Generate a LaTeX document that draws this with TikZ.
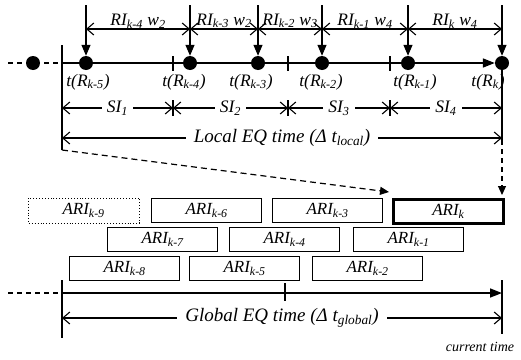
\documentclass[tikz,border=0pt]{standalone}
\usepackage{fontspec}
\setmainfont{Liberation Serif}
\usetikzlibrary{arrows.meta}
\newcommand{\sbs}[1]{\textsubscript{#1}}
\begin{document}
\begin{tikzpicture}[x=1pt,y=-1pt,
  font=\fontsize{13}{15}\selectfont\itshape,
  bigfont/.style={font=\fontsize{17.5}{19}\selectfont\itshape},
  eqfont/.style={font=\fontsize{19}{21}\selectfont\itshape},
  midfont/.style={font=\fontsize{17}{19}\selectfont\itshape},
  dotnode/.style={circle,fill=black,inner sep=0pt,minimum size=14pt},
  tlabel/.style={inner sep=1pt,bigfont},
  arinode/.style={draw,line width=1.2pt,minimum width=110pt,minimum height=24pt,inner sep=0pt,anchor=north west,midfont},
  mainline/.style={line width=1.6pt},
  vline/.style={line width=1.2pt},
  downarrow/.style={line width=1.2pt,-{Triangle[length=11pt,width=9pt]}},
  dimarrow/.style={line width=1.1pt,{Straight Barb[length=7pt,width=12pt]}-{Straight Barb[length=7pt,width=12pt]}},
  dimlabel/.style={fill=white,inner xsep=5pt,inner ysep=1pt,bigfont},
  ticks/.style={line width=1.1pt}
]
\useasboundingbox (0,0) rectangle (521,359);

% ---------- top timeline ----------
\node[dotnode] (d0) at (33,63) {};
\node[dotnode] (d5) at (86,63) {};
\node[dotnode] (d4) at (190,63) {};
\node[dotnode] (d3) at (258,63) {};
\node[dotnode] (d2) at (322,63) {};
\node[dotnode] (d1) at (408,63) {};
\node[dotnode] (dk) at (502,63) {};

\coordinate (ldash) at (8,63);
\coordinate (l0) at (62,63);
\draw[line width=1.3pt,dash pattern=on 5pt off 4pt] (ldash) -- (l0);
\draw[mainline,-{Triangle[length=12pt,width=9pt]}] (l0) -- (dk);

% left vertical
\coordinate (vtop) at (62,45);
\coordinate (vbot) at (62,150);
\draw[vline] (vtop) -- (vbot);

% ticks on timeline and SI row
\foreach \x/\n in {173/a,288/b,390/c}{
  \coordinate (tt\n) at (\x,56);
  \coordinate (tb\n) at (\x,71);
  \draw[ticks] (tt\n) -- (tb\n);
  \coordinate (st\n) at (\x,100);
  \coordinate (sb\n) at (\x,116);
  \draw[ticks] (st\n) -- (sb\n);
}

% down arrows from top
\foreach \x/\n in {86/d5,190/d4,258/d3,322/d2,408/d1,502/dk}{
  \coordinate (top\n) at (\x,5);
  \draw[downarrow] (top\n) -- (\n);
}

% RI dimension arrows
\foreach \x/\n in {86/5,190/4,258/3,322/2,408/1,502/0}{
  \coordinate (ri\n) at (\x,29);
}
\tikzset{rilab/.style={above=-3pt,bigfont,inner xsep=1pt}}
\draw[dimarrow] (ri5) -- node[rilab] (rl4) {RI\sbs{k-4} w\sbs{2}} (ri4);
\draw[dimarrow] (ri4) -- node[rilab] (rl3) {RI\sbs{k-3} w\sbs{2}} (ri3);
\draw[dimarrow] (ri3) -- node[rilab] (rl2) {RI\sbs{k-2} w\sbs{3}} (ri2);
\draw[dimarrow] (ri2) -- node[rilab] (rl1) {RI\sbs{k-1} w\sbs{4}} (ri1);
\draw[dimarrow] (ri1) -- node[rilab] (rl0) {RI\sbs{k} w\sbs{4}} (ri0);

% t(R) labels
\node[tlabel] (tr5) at (88,82) {t(R\sbs{k-5})};
\node[tlabel] (tr4) at (184,82) {t(R\sbs{k-4})};
\node[tlabel] (tr3) at (251,82) {t(R\sbs{k-3})};
\node[tlabel] (tr2) at (321,82) {t(R\sbs{k-2})};
\node[tlabel] (tr1) at (415,82) {t(R\sbs{k-1})};
\node[tlabel] (tr0) at (488,82) {t(R\sbs{k})};

% right vertical below dk
\coordinate (rbot) at (502,140);
\draw[vline] (dk) -- (rbot);

% SI arrows
\coordinate (s0) at (62,108);
\coordinate (s1) at (173,108);
\coordinate (s2) at (288,108);
\coordinate (s3) at (390,108);
\coordinate (s4) at (502,108);
\draw[dimarrow] (s0) -- node[dimlabel] (si1) {SI\sbs{1}} (s1);
\draw[dimarrow] (s1) -- node[dimlabel] (si2) {SI\sbs{2}} (s2);
\draw[dimarrow] (s2) -- node[dimlabel] (si3) {SI\sbs{3}} (s3);
\draw[dimarrow] (s3) -- node[dimlabel] (si4) {SI\sbs{4}} (s4);

% Local EQ time
\coordinate (le0) at (62,138);
\coordinate (le1) at (502,138);
\draw[dimarrow] (le0) -- node[dimlabel,eqfont,inner xsep=8pt] (loc) {Local EQ time (Δ t\sbs{local})} (le1);

% ---------- ARI boxes ----------
\node[arinode,draw=none] (ari9) at (28,198) {ARI\sbs{k-9}};
\draw[line width=0.9pt,dotted] (ari9.north west) rectangle (ari9.south east);
\node[arinode] (ari6) at (151,198) {ARI\sbs{k-6}};
\node[arinode] (ari3) at (272,198) {ARI\sbs{k-3}};
\node[arinode,line width=2.8pt] (arik) at (392,198) {ARI\sbs{k}};
\node[arinode] (ari7) at (107,227) {ARI\sbs{k-7}};
\node[arinode] (ari4) at (229,227) {ARI\sbs{k-4}};
\node[arinode] (ari1) at (353,227) {ARI\sbs{k-1}};
\node[arinode] (ari8) at (69,256) {ARI\sbs{k-8}};
\node[arinode] (ari5) at (189,256) {ARI\sbs{k-5}};
\node[arinode] (ari2) at (312,256) {ARI\sbs{k-2}};

% dashed connectors
\coordinate (dtip) at (389,192);
\draw[line width=1.2pt,dash pattern=on 6pt off 4pt,-{Triangle[length=9pt,width=8pt]}] (vbot) -- (dtip);
\coordinate (rtip) at (502,195);
\draw[line width=1.2pt,dash pattern=on 5pt off 4pt,-{Triangle[length=9pt,width=8pt]}] (rbot) -- (rtip);

% ---------- global timeline ----------
\coordinate (gdash) at (8,293);
\coordinate (g0) at (62,293);
\coordinate (g1) at (502,293);
\draw[line width=1.3pt,dash pattern=on 5pt off 4pt] (gdash) -- (g0);
\draw[mainline,-{Triangle[length=12pt,width=9pt]}] (g0) -- (g1);
\coordinate (gvt) at (62,280);
\coordinate (gvb) at (62,338);
\draw[vline] (gvt) -- (gvb);
\coordinate (gvrt) at (502,280);
\coordinate (gvrb) at (502,334);
\draw[vline] (gvrt) -- (gvrb);
\coordinate (gtt) at (285,283);
\coordinate (gtb) at (285,301);
\draw[ticks] (gtt) -- (gtb);

\coordinate (ge0) at (62,318);
\coordinate (ge1) at (502,318);
\draw[dimarrow] (ge0) -- node[dimlabel,eqfont,inner xsep=8pt] (glob) {Global EQ time (Δ t\sbs{global})} (ge1);

\node[font=\fontsize{14}{16}\selectfont\itshape] (cur) at (480,347) {current time};
\end{tikzpicture}
\end{document}
